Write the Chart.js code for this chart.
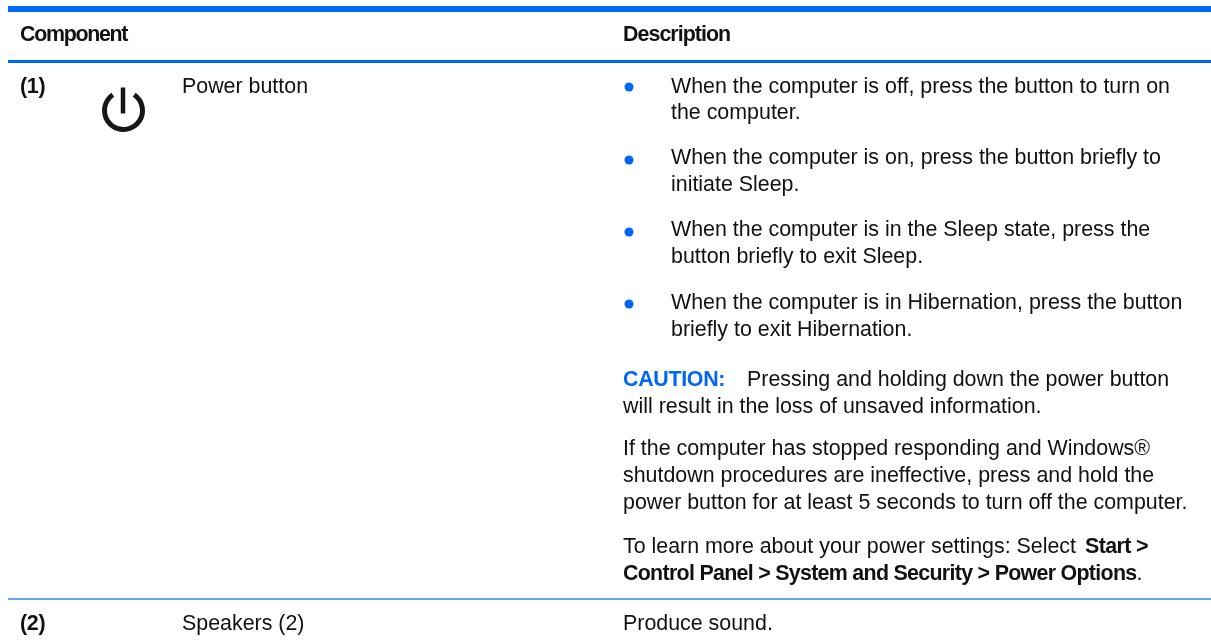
<!DOCTYPE html>
<html>
<head>
<meta charset="utf-8">
<style>
  html, body { margin: 0; padding: 0; background: #fff; }
  canvas { display: block; }
</style>
<script src="https://cdn.jsdelivr.net/npm/chart.js@4/dist/chart.umd.min.js"></script>
</head>
<body>
<canvas id="table" width="1211" height="643"></canvas>
<script>
// table contents
const headers = ['Component', 'Description'];
const itemNumbers = ['(1)', '(2)'];
const componentNames = ['Power button', 'Speakers (2)'];
const bulletLines = [
  'When the computer is off, press the button to turn on',
  'the computer.',
  'When the computer is on, press the button briefly to',
  'initiate Sleep.',
  'When the computer is in the Sleep state, press the',
  'button briefly to exit Sleep.',
  'When the computer is in Hibernation, press the button',
  'briefly to exit Hibernation.'
];
const plainLines = [
  'will result in the loss of unsaved information.',
  'If the computer has stopped responding and Windows®',
  'shutdown procedures are ineffective, press and hold the',
  'power button for at least 5 seconds to turn off the computer.',
  'Produce sound.'
];
const cautionLabel = 'CAUTION:';
const cautionText = 'Pressing and holding down the power button';
const learnText = 'To learn more about your power settings: Select ';
const learnBold = 'Start >';
const pathBold = 'Control Panel > System and Security > Power Options';
const pathEnd = '.';

// rows (y axis runs top to bottom)
const headerRow = 41;
const itemRows = [93, 630];
const bulletLineRows = [93, 119, 164, 191, 236, 263, 309, 336];
const plainLineRows = [413, 455, 482, 509, 630];
const cautionRow = 386;
const learnRow = 553;
const pathRow = 580;
const bulletRows = [87, 160, 232, 304];
const ruleRows = [9, 61.5, 599];

// columns
const numberCol = 20;
const nameCol = 182;
const descCol = 623;
const cautionTextCol = 747;
const learnBoldCol = 1085;
const bulletTextCol = 671;
const bulletCol = 629;
const ruleStart = 8;
const ruleEnd = 1211;
const iconCol = 123.5;
const iconRow = 110.5;

const blue = '#0066f5';
const ink = '#111111';
const bodyFont = '21.4px "Liberation Sans"';
const boldFont = 'bold 21.4px "Liberation Sans"';

const tableText = {
  id: 'tableText',
  afterDatasetsDraw(chart) {
    const { ctx, scales: { x, y } } = chart;
    const put = (str, col, row, font, color, spacing) => {
      ctx.font = font;
      ctx.fillStyle = color || ink;
      ctx.letterSpacing = spacing || '0px';
      ctx.fillText(str, x.getPixelForValue(col), y.getPixelForValue(row));
      return col + ctx.measureText(str).width;
    };
    ctx.save();
    ctx.textBaseline = 'alphabetic';

    put(headers[0], numberCol, headerRow, boldFont, ink, '-1.3px');
    put(headers[1], descCol, headerRow, boldFont, ink, '-0.95px');
    itemNumbers.forEach((s, i) => put(s, numberCol, itemRows[i], boldFont, ink, '-0.3px'));
    componentNames.forEach((s, i) => put(s, nameCol, itemRows[i], bodyFont));
    bulletLines.forEach((s, i) => put(s, bulletTextCol, bulletLineRows[i], bodyFont));
    plainLines.forEach((s, i) => put(s, descCol, plainLineRows[i], bodyFont));

    put(cautionLabel, descCol, cautionRow, boldFont, blue, '-0.3px');
    put(cautionText, cautionTextCol, cautionRow, bodyFont);
    put(learnText, descCol, learnRow, bodyFont);
    put(learnBold, learnBoldCol, learnRow, boldFont, ink, '-0.6px');
    const pathStop = put(pathBold, descCol, pathRow, boldFont, ink, '-0.7px');
    put(pathEnd, pathStop, pathRow, bodyFont);

    // power icon
    const cx = x.getPixelForValue(iconCol);
    const cy = y.getPixelForValue(iconRow);
    ctx.filter = 'blur(0.6px)';
    ctx.strokeStyle = '#161616';
    ctx.lineWidth = 5;
    ctx.beginPath();
    ctx.arc(cx, cy, 19, -Math.PI * 0.31, Math.PI * 1.31);
    ctx.stroke();
    ctx.lineWidth = 4.5;
    ctx.beginPath();
    ctx.moveTo(cx - 0.5, y.getPixelForValue(iconRow - 23));
    ctx.lineTo(cx - 0.5, y.getPixelForValue(iconRow + 3));
    ctx.stroke();
    ctx.restore();
  }
};

const ruleWidths = [6, 3, 1.6];
const ruleColors = [blue, blue, '#3c86ee'];
const ruleSets = ruleRows.map((row, i) => ({
  type: 'line',
  data: [{ x: ruleStart, y: row }, { x: ruleEnd, y: row }],
  borderColor: ruleColors[i],
  borderWidth: ruleWidths[i],
  pointRadius: 0
}));

new Chart(document.getElementById('table'), {
  type: 'scatter',
  data: {
    datasets: [
      ...ruleSets,
      {
        data: bulletRows.map(row => ({ x: bulletCol, y: row })),
        backgroundColor: blue,
        borderWidth: 0,
        pointRadius: 4.5
      }
    ]
  },
  options: {
    responsive: false,
    animation: false,
    layout: { padding: 0, autoPadding: false },
    plugins: { legend: { display: false }, tooltip: { enabled: false } },
    scales: {
      x: { display: false, min: 0, max: 1211 },
      y: { display: false, min: 0, max: 643, reverse: true }
    }
  },
  plugins: [tableText]
});
</script>
</body>
</html>
